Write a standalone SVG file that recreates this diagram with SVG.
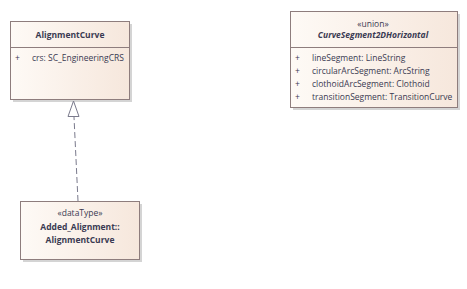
<svg xmlns="http://www.w3.org/2000/svg" width="467" height="289" viewBox="0 0 467 289">
  <defs>
    <linearGradient id="classFill" x1="0" y1="0" x2="1" y2="0">
      <stop offset="0" stop-color="#fefaf6"/>
      <stop offset="1" stop-color="#f6e7dc"/>
    </linearGradient>
  </defs>
  <style>
    .shadow { fill: #d4d4d4; }
    .box { fill: url(#classFill); stroke: #8e7d7d; stroke-width: 1; }
    .sep { stroke: #8e7d7d; stroke-width: 1; }
    text { font-family: "Open Sans", "Liberation Sans", sans-serif; font-size: 8.5px; fill: #3a3a52; }
    .name { font-weight: bold; text-anchor: middle; }
    .stereo { text-anchor: middle; }
    .abstract { font-style: italic; }
    .conn { fill: none; stroke: #7a7a8c; stroke-width: 1; }
    .dash { stroke-dasharray: 6 3; }
    .head { fill: #ffffff; stroke: #7a7a8c; stroke-width: 1; }
  </style>

  <g id="AlignmentCurve">
    <rect class="shadow" x="13" y="24" width="119" height="78"/>
    <rect class="box" x="10.5" y="21.5" width="119" height="78"/>
    <line class="sep" x1="10.5" y1="47.5" x2="129.5" y2="47.5"/>
    <text class="name" x="70" y="38">AlignmentCurve</text>
    <text x="15" y="61">+</text>
    <text x="32" y="61">crs: SC_EngineeringCRS</text>
  </g>

  <g id="CurveSegment2DHorizontal">
    <rect class="shadow" x="293" y="14" width="167" height="96"/>
    <rect class="box" x="290.5" y="11.5" width="167" height="96"/>
    <line class="sep" x1="290.5" y1="47.5" x2="457.5" y2="47.5"/>
    <text class="stereo" x="373" y="27">«union»</text>
    <text class="name abstract" x="373" y="38">CurveSegment2DHorizontal</text>
    <text x="295" y="61">+</text>
    <text x="312" y="61">lineSegment: LineString</text>
    <text x="295" y="74">+</text>
    <text x="312" y="74">circularArcSegment: ArcString</text>
    <text x="295" y="87">+</text>
    <text x="312" y="87">clothoidArcSegment: Clothoid</text>
    <text x="295" y="100">+</text>
    <text x="312" y="100">transitionSegment: TransitionCurve</text>
  </g>

  <g id="Added_Alignment_AlignmentCurve">
    <rect class="shadow" x="23" y="204" width="119" height="58"/>
    <rect class="box" x="20.5" y="201.5" width="119" height="58"/>
    <text class="stereo" x="80" y="216">«dataType»</text>
    <text class="name" x="80" y="230">Added_Alignment::</text>
    <text class="name" x="80" y="243">AlignmentCurve</text>
  </g>

  <g id="connectors">
    <line class="conn dash" x1="78" y1="201" x2="74" y2="117"/>
    <polygon class="head" points="73.5,101 68,116.5 79,116.5"/>
  </g>
</svg>
